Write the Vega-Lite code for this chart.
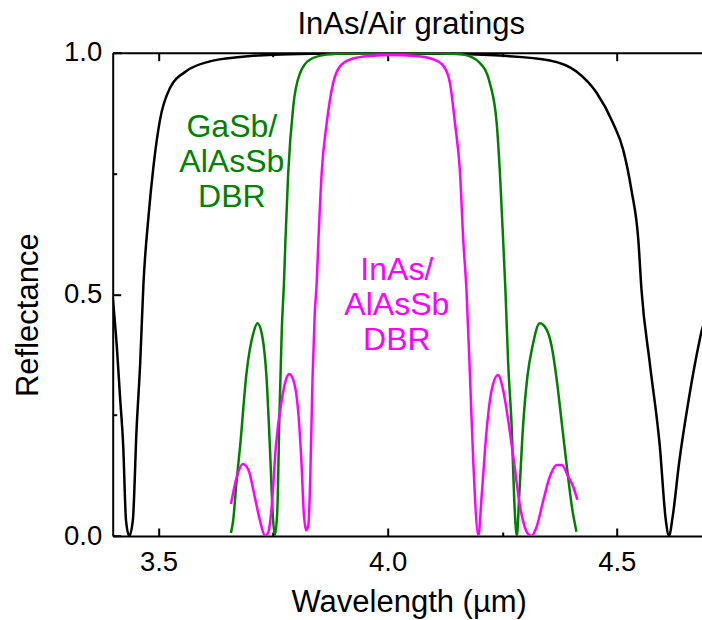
{
  "$schema": "https://vega.github.io/schema/vega-lite/v6.json",
  "width": 589.3,
  "height": 483.3,
  "autosize": "none",
  "padding": {"left": 112.7, "top": 52.7, "right": 0, "bottom": 84},
  "background": "white",
  "config": {
    "font": "Liberation Sans",
    "view": {"stroke": null},
    "axis": {
      "labelFont": "Liberation Sans", "labelFontSize": 27.5, "labelColor": "black",
      "titleFont": "Liberation Sans", "titleFontSize": 31, "titleFontWeight": "normal", "titleColor": "black",
      "tickColor": "black", "tickWidth": 2, "domainColor": "black", "domainWidth": 2, "grid": false
    }
  },
  "datasets": {
    "curves": [
      {"s": "InAs/Air gratings", "w": 3.400, "r": 0.495},
      {"s": "InAs/Air gratings", "w": 3.409, "r": 0.392},
      {"s": "InAs/Air gratings", "w": 3.416, "r": 0.288},
      {"s": "InAs/Air gratings", "w": 3.423, "r": 0.185},
      {"s": "InAs/Air gratings", "w": 3.429, "r": 0.033},
      {"s": "InAs/Air gratings", "w": 3.436, "r": 0.0},
      {"s": "InAs/Air gratings", "w": 3.444, "r": 0.033},
      {"s": "InAs/Air gratings", "w": 3.452, "r": 0.219},
      {"s": "InAs/Air gratings", "w": 3.460, "r": 0.358},
      {"s": "InAs/Air gratings", "w": 3.467, "r": 0.520},
      {"s": "InAs/Air gratings", "w": 3.478, "r": 0.660},
      {"s": "InAs/Air gratings", "w": 3.489, "r": 0.765},
      {"s": "InAs/Air gratings", "w": 3.503, "r": 0.860},
      {"s": "InAs/Air gratings", "w": 3.525, "r": 0.927},
      {"s": "InAs/Air gratings", "w": 3.561, "r": 0.962},
      {"s": "InAs/Air gratings", "w": 3.612, "r": 0.982},
      {"s": "InAs/Air gratings", "w": 3.678, "r": 0.991},
      {"s": "InAs/Air gratings", "w": 3.750, "r": 0.996},
      {"s": "InAs/Air gratings", "w": 3.850, "r": 0.998},
      {"s": "InAs/Air gratings", "w": 4.000, "r": 0.999},
      {"s": "InAs/Air gratings", "w": 4.136, "r": 0.998},
      {"s": "InAs/Air gratings", "w": 4.245, "r": 0.994},
      {"s": "InAs/Air gratings", "w": 4.354, "r": 0.984},
      {"s": "InAs/Air gratings", "w": 4.412, "r": 0.961},
      {"s": "InAs/Air gratings", "w": 4.456, "r": 0.917},
      {"s": "InAs/Air gratings", "w": 4.492, "r": 0.854},
      {"s": "InAs/Air gratings", "w": 4.514, "r": 0.799},
      {"s": "InAs/Air gratings", "w": 4.532, "r": 0.716},
      {"s": "InAs/Air gratings", "w": 4.547, "r": 0.613},
      {"s": "InAs/Air gratings", "w": 4.554, "r": 0.509},
      {"s": "InAs/Air gratings", "w": 4.572, "r": 0.358},
      {"s": "InAs/Air gratings", "w": 4.594, "r": 0.185},
      {"s": "InAs/Air gratings", "w": 4.607, "r": 0.033},
      {"s": "InAs/Air gratings", "w": 4.614, "r": 0.0},
      {"s": "InAs/Air gratings", "w": 4.622, "r": 0.040},
      {"s": "InAs/Air gratings", "w": 4.636, "r": 0.151},
      {"s": "InAs/Air gratings", "w": 4.658, "r": 0.288},
      {"s": "InAs/Air gratings", "w": 4.678, "r": 0.392},
      {"s": "InAs/Air gratings", "w": 4.686, "r": 0.427},
      {"s": "InAs/Air gratings", "w": 4.700, "r": 0.460},

      {"s": "GaSb/AlAsSb DBR", "w": 3.658, "r": 0.006},
      {"s": "GaSb/AlAsSb DBR", "w": 3.663, "r": 0.033},
      {"s": "GaSb/AlAsSb DBR", "w": 3.670, "r": 0.110},
      {"s": "GaSb/AlAsSb DBR", "w": 3.678, "r": 0.185},
      {"s": "GaSb/AlAsSb DBR", "w": 3.692, "r": 0.337},
      {"s": "GaSb/AlAsSb DBR", "w": 3.707, "r": 0.420},
      {"s": "GaSb/AlAsSb DBR", "w": 3.716, "r": 0.440},
      {"s": "GaSb/AlAsSb DBR", "w": 3.725, "r": 0.420},
      {"s": "GaSb/AlAsSb DBR", "w": 3.736, "r": 0.323},
      {"s": "GaSb/AlAsSb DBR", "w": 3.743, "r": 0.185},
      {"s": "GaSb/AlAsSb DBR", "w": 3.750, "r": 0.033},
      {"s": "GaSb/AlAsSb DBR", "w": 3.754, "r": 0.002},
      {"s": "GaSb/AlAsSb DBR", "w": 3.759, "r": 0.048},
      {"s": "GaSb/AlAsSb DBR", "w": 3.764, "r": 0.255},
      {"s": "GaSb/AlAsSb DBR", "w": 3.769, "r": 0.427},
      {"s": "GaSb/AlAsSb DBR", "w": 3.774, "r": 0.530},
      {"s": "GaSb/AlAsSb DBR", "w": 3.777, "r": 0.613},
      {"s": "GaSb/AlAsSb DBR", "w": 3.783, "r": 0.751},
      {"s": "GaSb/AlAsSb DBR", "w": 3.794, "r": 0.889},
      {"s": "GaSb/AlAsSb DBR", "w": 3.809, "r": 0.958},
      {"s": "GaSb/AlAsSb DBR", "w": 3.831, "r": 0.986},
      {"s": "GaSb/AlAsSb DBR", "w": 3.867, "r": 0.996},
      {"s": "GaSb/AlAsSb DBR", "w": 3.918, "r": 0.999},
      {"s": "GaSb/AlAsSb DBR", "w": 4.000, "r": 1.000},
      {"s": "GaSb/AlAsSb DBR", "w": 4.100, "r": 0.999},
      {"s": "GaSb/AlAsSb DBR", "w": 4.136, "r": 0.998},
      {"s": "GaSb/AlAsSb DBR", "w": 4.165, "r": 0.996},
      {"s": "GaSb/AlAsSb DBR", "w": 4.201, "r": 0.979},
      {"s": "GaSb/AlAsSb DBR", "w": 4.223, "r": 0.937},
      {"s": "GaSb/AlAsSb DBR", "w": 4.238, "r": 0.854},
      {"s": "GaSb/AlAsSb DBR", "w": 4.245, "r": 0.751},
      {"s": "GaSb/AlAsSb DBR", "w": 4.252, "r": 0.613},
      {"s": "GaSb/AlAsSb DBR", "w": 4.257, "r": 0.509},
      {"s": "GaSb/AlAsSb DBR", "w": 4.263, "r": 0.358},
      {"s": "GaSb/AlAsSb DBR", "w": 4.271, "r": 0.219},
      {"s": "GaSb/AlAsSb DBR", "w": 4.276, "r": 0.081},
      {"s": "GaSb/AlAsSb DBR", "w": 4.282, "r": 0.0},
      {"s": "GaSb/AlAsSb DBR", "w": 4.287, "r": 0.081},
      {"s": "GaSb/AlAsSb DBR", "w": 4.296, "r": 0.234},
      {"s": "GaSb/AlAsSb DBR", "w": 4.305, "r": 0.330},
      {"s": "GaSb/AlAsSb DBR", "w": 4.316, "r": 0.392},
      {"s": "GaSb/AlAsSb DBR", "w": 4.332, "r": 0.440},
      {"s": "GaSb/AlAsSb DBR", "w": 4.347, "r": 0.427},
      {"s": "GaSb/AlAsSb DBR", "w": 4.358, "r": 0.392},
      {"s": "GaSb/AlAsSb DBR", "w": 4.369, "r": 0.323},
      {"s": "GaSb/AlAsSb DBR", "w": 4.380, "r": 0.234},
      {"s": "GaSb/AlAsSb DBR", "w": 4.391, "r": 0.144},
      {"s": "GaSb/AlAsSb DBR", "w": 4.402, "r": 0.061},
      {"s": "GaSb/AlAsSb DBR", "w": 4.412, "r": 0.009},

      {"s": "InAs/AlAsSb DBR", "w": 3.658, "r": 0.066},
      {"s": "InAs/AlAsSb DBR", "w": 3.671, "r": 0.123},
      {"s": "InAs/AlAsSb DBR", "w": 3.684, "r": 0.149},
      {"s": "InAs/AlAsSb DBR", "w": 3.696, "r": 0.137},
      {"s": "InAs/AlAsSb DBR", "w": 3.710, "r": 0.081},
      {"s": "InAs/AlAsSb DBR", "w": 3.721, "r": 0.033},
      {"s": "InAs/AlAsSb DBR", "w": 3.733, "r": 0.0},
      {"s": "InAs/AlAsSb DBR", "w": 3.740, "r": 0.009},
      {"s": "InAs/AlAsSb DBR", "w": 3.747, "r": 0.061},
      {"s": "InAs/AlAsSb DBR", "w": 3.756, "r": 0.185},
      {"s": "InAs/AlAsSb DBR", "w": 3.769, "r": 0.282},
      {"s": "InAs/AlAsSb DBR", "w": 3.778, "r": 0.323},
      {"s": "InAs/AlAsSb DBR", "w": 3.785, "r": 0.335},
      {"s": "InAs/AlAsSb DBR", "w": 3.794, "r": 0.323},
      {"s": "InAs/AlAsSb DBR", "w": 3.805, "r": 0.255},
      {"s": "InAs/AlAsSb DBR", "w": 3.812, "r": 0.151},
      {"s": "InAs/AlAsSb DBR", "w": 3.817, "r": 0.048},
      {"s": "InAs/AlAsSb DBR", "w": 3.822, "r": 0.012},
      {"s": "InAs/AlAsSb DBR", "w": 3.827, "r": 0.023},
      {"s": "InAs/AlAsSb DBR", "w": 3.831, "r": 0.116},
      {"s": "InAs/AlAsSb DBR", "w": 3.836, "r": 0.323},
      {"s": "InAs/AlAsSb DBR", "w": 3.841, "r": 0.462},
      {"s": "InAs/AlAsSb DBR", "w": 3.845, "r": 0.520},
      {"s": "InAs/AlAsSb DBR", "w": 3.849, "r": 0.613},
      {"s": "InAs/AlAsSb DBR", "w": 3.856, "r": 0.751},
      {"s": "InAs/AlAsSb DBR", "w": 3.867, "r": 0.854},
      {"s": "InAs/AlAsSb DBR", "w": 3.881, "r": 0.937},
      {"s": "InAs/AlAsSb DBR", "w": 3.896, "r": 0.972},
      {"s": "InAs/AlAsSb DBR", "w": 3.918, "r": 0.986},
      {"s": "InAs/AlAsSb DBR", "w": 3.960, "r": 0.993},
      {"s": "InAs/AlAsSb DBR", "w": 4.010, "r": 0.995},
      {"s": "InAs/AlAsSb DBR", "w": 4.060, "r": 0.993},
      {"s": "InAs/AlAsSb DBR", "w": 4.100, "r": 0.986},
      {"s": "InAs/AlAsSb DBR", "w": 4.122, "r": 0.972},
      {"s": "InAs/AlAsSb DBR", "w": 4.136, "r": 0.937},
      {"s": "InAs/AlAsSb DBR", "w": 4.147, "r": 0.854},
      {"s": "InAs/AlAsSb DBR", "w": 4.158, "r": 0.751},
      {"s": "InAs/AlAsSb DBR", "w": 4.165, "r": 0.613},
      {"s": "InAs/AlAsSb DBR", "w": 4.172, "r": 0.509},
      {"s": "InAs/AlAsSb DBR", "w": 4.180, "r": 0.323},
      {"s": "InAs/AlAsSb DBR", "w": 4.187, "r": 0.151},
      {"s": "InAs/AlAsSb DBR", "w": 4.198, "r": 0.0},
      {"s": "InAs/AlAsSb DBR", "w": 4.205, "r": 0.081},
      {"s": "InAs/AlAsSb DBR", "w": 4.216, "r": 0.219},
      {"s": "InAs/AlAsSb DBR", "w": 4.227, "r": 0.302},
      {"s": "InAs/AlAsSb DBR", "w": 4.241, "r": 0.333},
      {"s": "InAs/AlAsSb DBR", "w": 4.252, "r": 0.302},
      {"s": "InAs/AlAsSb DBR", "w": 4.263, "r": 0.240},
      {"s": "InAs/AlAsSb DBR", "w": 4.276, "r": 0.151},
      {"s": "InAs/AlAsSb DBR", "w": 4.289, "r": 0.061},
      {"s": "InAs/AlAsSb DBR", "w": 4.305, "r": 0.006},
      {"s": "InAs/AlAsSb DBR", "w": 4.314, "r": 0.0},
      {"s": "InAs/AlAsSb DBR", "w": 4.325, "r": 0.019},
      {"s": "InAs/AlAsSb DBR", "w": 4.340, "r": 0.075},
      {"s": "InAs/AlAsSb DBR", "w": 4.354, "r": 0.123},
      {"s": "InAs/AlAsSb DBR", "w": 4.369, "r": 0.147},
      {"s": "InAs/AlAsSb DBR", "w": 4.380, "r": 0.147},
      {"s": "InAs/AlAsSb DBR", "w": 4.394, "r": 0.123},
      {"s": "InAs/AlAsSb DBR", "w": 4.405, "r": 0.102},
      {"s": "InAs/AlAsSb DBR", "w": 4.414, "r": 0.075}
    ],
    "notes": [
      {"s": "GaSb/AlAsSb DBR", "w": 3.660, "r": 0.847, "label": ["GaSb/", "AlAsSb", "DBR"]},
      {"s": "InAs/AlAsSb DBR", "w": 4.020, "r": 0.551, "label": ["InAs/", "AlAsSb", "DBR"]}
    ]
  },
  "resolve": {"axis": {"x": "independent", "y": "independent"}},
  "layer": [
    {
      "data": {"name": "curves"},
      "mark": {"type": "line", "strokeWidth": 2.5, "interpolate": "monotone", "clip": true},
      "encoding": {
        "x": {"field": "w", "type": "quantitative",
              "scale": {"domain": [3.4, 4.686], "nice": false, "zero": false},
              "axis": {"orient": "bottom", "values": [3.5, 4.0, 4.5], "format": ".1f", "tickSize": -8, "labelPadding": 20,
                       "domain": true, "title": "Wavelength (\u00b5m)", "titleY": 75, "titleBaseline": "alphabetic", "titleX": 296}},
        "y": {"field": "r", "type": "quantitative",
              "scale": {"domain": [0, 1], "nice": false, "zero": false},
              "axis": {"orient": "left", "values": [0, 0.5, 1.0], "format": ".1f", "tickSize": -8, "labelPadding": 19,
                       "domain": true, "title": "Reflectance", "titleX": -75, "titleY": 262, "titleBaseline": "alphabetic", "titleAlign": "center", "titleAngle": -90}},
        "color": {"field": "s", "type": "nominal",
                  "scale": {"domain": ["InAs/Air gratings", "GaSb/AlAsSb DBR", "InAs/AlAsSb DBR"], "range": ["#000000", "#008000", "#ff00ff"]},
                  "legend": null}
      }
    },
    {
      "data": {"name": "curves"},
      "mark": {"type": "point", "opacity": 0},
      "encoding": {
        "x": {"field": "w", "type": "quantitative",
              "axis": {"orient": "bottom", "values": [3.75, 4.25], "tickSize": -4, "labels": false, "domain": false, "title": null}},
        "y": {"field": "r", "type": "quantitative",
              "axis": {"orient": "left", "values": [0.25, 0.75], "tickSize": -4, "labels": false, "domain": false, "title": null}}
      }
    },
    {
      "data": {"name": "curves"},
      "mark": {"type": "point", "opacity": 0},
      "encoding": {
        "x": {"field": "w", "type": "quantitative",
              "axis": {"orient": "top", "values": [3.5, 4.0, 4.5], "tickSize": -8, "labels": false, "domain": true,
                       "title": "InAs/Air gratings", "titleX": 298, "titleY": -19, "titleBaseline": "alphabetic", "titleAlign": "center"}},
        "y": {"field": "r", "type": "quantitative", "axis": null}
      }
    },
    {
      "data": {"name": "curves"},
      "mark": {"type": "point", "opacity": 0},
      "encoding": {
        "x": {"field": "w", "type": "quantitative",
              "axis": {"orient": "top", "values": [3.75, 4.25], "tickSize": -4, "labels": false, "domain": false, "title": null}},
        "y": {"field": "r", "type": "quantitative", "axis": null}
      }
    },
    {
      "data": {"name": "notes"},
      "mark": {"type": "text", "fontSize": 32, "lineHeight": 35, "align": "center", "baseline": "middle", "font": "Liberation Sans"},
      "encoding": {
        "x": {"field": "w", "type": "quantitative", "axis": null},
        "y": {"field": "r", "type": "quantitative", "axis": null},
        "text": {"field": "label"},
        "color": {"field": "s", "type": "nominal", "legend": null}
      }
    }
  ]
}
